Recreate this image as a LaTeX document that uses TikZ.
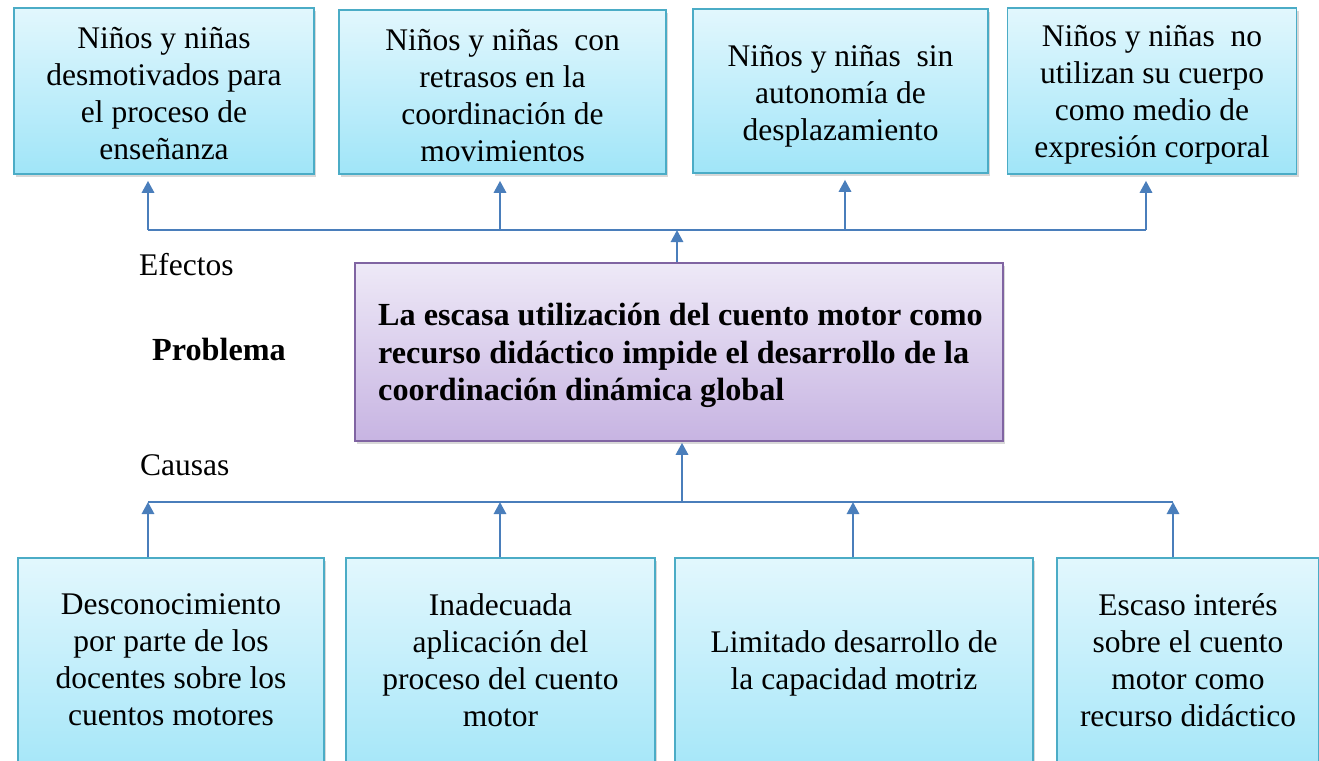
\documentclass[tikz,border=0pt]{standalone}
\usepackage{fontspec}
\setmainfont{Liberation Serif}
\usetikzlibrary{shadows,arrows.meta}
\definecolor{cyantop}{RGB}{226,247,253}
\definecolor{cyanbot}{RGB}{160,229,248}
\definecolor{cyanbd}{RGB}{75,172,198}
\definecolor{purtop}{RGB}{238,233,247}
\definecolor{purbot}{RGB}{199,180,226}
\definecolor{purbd}{RGB}{128,100,162}
\definecolor{arrc}{RGB}{74,126,187}
\newcommand{\bodyfont}{\fontsize{31.5}{37}\selectfont}
\newcommand{\boldbodyfont}{\fontsize{32.2}{37.5}\selectfont\bfseries}
\begin{document}
\begin{tikzpicture}[x=1pt,y=-1pt,
  box/.style={draw=cyanbd, line width=1.5pt, top color=cyantop, bottom color=cyanbot,
    drop shadow={shadow xshift=2pt, shadow yshift=-3pt, opacity=0.3},
    inner sep=0pt},
  probbox/.style={draw=purbd, line width=1.5pt, top color=purtop, bottom color=purbot,
    drop shadow={shadow xshift=2pt, shadow yshift=-3pt, opacity=0.3},
    inner sep=0pt},
  txt/.style={inner sep=0pt, align=center, font=\bodyfont},
  lbl/.style={inner sep=0pt, anchor=base west, font=\bodyfont},
  arr/.style={draw=arrc, line width=2.8pt, -{Triangle[length=12pt,width=12pt]}},
  bus/.style={draw=arrc, line width=2.4pt}]
\useasboundingbox (0,0) rectangle (1319,760);
\fill[white] (0,0) rectangle (1319,760);

% top (effects) boxes
\node[box, minimum width=300pt, minimum height=166pt] (t1) at (164,91) {};
\node[box, minimum width=327pt, minimum height=164pt] (t2) at (502.5,92) {};
\node[box, minimum width=295pt, minimum height=164pt] (t3) at (840.5,91) {};
\node[box, minimum width=289pt, minimum height=166pt] (t4) at (1152,91) {};
\node[txt] (t1t) at (164,94)
  {Niños y niñas\\desmotivados para\\el proceso de\\enseñanza};
\node[txt] (t2t) at (502.5,96)
  {Niños y niñas\ \ con\\retrasos en la\\coordinación de\\movimientos};
\node[txt] (t3t) at (840.5,96)
  {Niños y niñas\ \ sin\\autonomía de\\desplazamiento};
\node[txt] (t4t) at (1152,95)
  {Niños y niñas\ \ no\\utilizan su cuerpo\\como medio de\\expresión corporal};

% problem box
\node[probbox, minimum width=648pt, minimum height=178pt] (p) at (679,352) {};
\node[inner sep=0pt, anchor=north west, align=left, font=\boldbodyfont] (pt) at (378,303)
  {La escasa utilización del cuento motor como\\recurso didáctico impide el desarrollo de la\\coordinación dinámica global};

% bottom (causes) boxes
\node[box, minimum width=306pt, minimum height=230pt] (b1) at (171,673) {};
\node[box, minimum width=309pt, minimum height=230pt] (b2) at (500.5,673) {};
\node[box, minimum width=358pt, minimum height=230pt] (b3) at (854,673) {};
\node[box, minimum width=262pt, minimum height=230pt] (b4) at (1188,673) {};
\node[txt, anchor=north] (b1t) at (171,593)
  {Desconocimiento\\por parte de los\\docentes sobre los\\cuentos motores};
\node[txt, anchor=north] (b2t) at (500.5,593)
  {Inadecuada\\aplicación del\\proceso del cuento\\motor};
\node[txt, anchor=north] (b3t) at (854,630)
  {Limitado desarrollo de\\la capacidad motriz};
\node[txt, anchor=north] (b4t) at (1188,593)
  {Escaso interés\\sobre el cuento\\motor como\\recurso didáctico};

% labels
\node[lbl] (ef) at (139,275) {Efectos};
\node[lbl, font=\boldbodyfont] (pr) at (152,360) {Problema};
\node[lbl] (ca) at (140,475) {Causas};

% effects bus
\coordinate (ebl) at (148,230);
\coordinate (ebr) at (1146,230);
\coordinate (e1) at (148,230);
\coordinate (e2) at (500,230);
\coordinate (e3) at (845,230);
\coordinate (e4) at (1146,230);
\coordinate (ep) at (677,230);
\draw[bus] (ebl) -- (ebr);
\draw[arr, shorten >=6pt] (e1) -- (e1 |- t1.south);
\draw[arr, shorten >=6pt] (e2) -- (e2 |- t2.south);
\draw[arr, shorten >=6pt] (e3) -- (e3 |- t3.south);
\draw[arr, shorten >=6pt] (e4) -- (e4 |- t4.south);
\draw[arr] (ep |- p.north) -- (ep);

% causes bus
\coordinate (cbl) at (148,502);
\coordinate (cbr) at (1173,502);
\coordinate (c1) at (148,502);
\coordinate (c2) at (500,502);
\coordinate (c3) at (853,502);
\coordinate (c4) at (1173,502);
\coordinate (cp) at (682,502);
\draw[bus] (cbl) -- (cbr);
\draw[arr] (c1 |- b1.north) -- (c1);
\draw[arr] (c2 |- b2.north) -- (c2);
\draw[arr] (c3 |- b3.north) -- (c3);
\draw[arr] (c4 |- b4.north) -- (c4);
\draw[arr, shorten >=1pt] (cp) -- (cp |- p.south);
\end{tikzpicture}
\end{document}
